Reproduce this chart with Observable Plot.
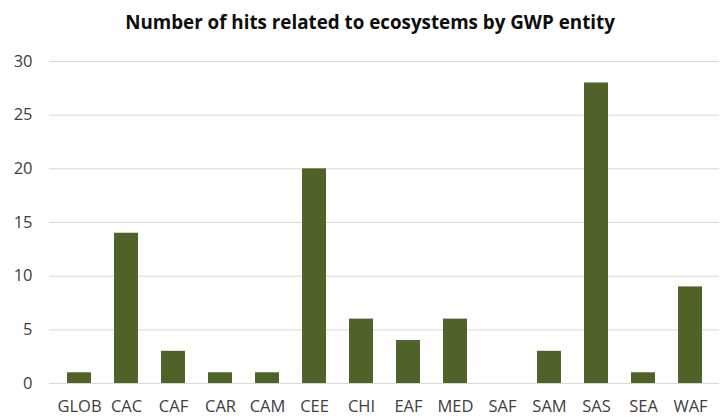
<!DOCTYPE html>
<html>
<head>
<meta charset="utf-8">
<script src="https://cdn.jsdelivr.net/npm/d3@7"></script>
<script src="https://cdn.jsdelivr.net/npm/@observablehq/plot@0.6"></script>
<style>
  html, body { margin: 0; padding: 0; background: #fff; }
  #chart { width: 722px; height: 419px; overflow: hidden; }
  .title {
    height: 40px; line-height: 44px; box-sizing: border-box;
    width: 740px; white-space: nowrap;
    text-align: center; font-family: "Open Sans", sans-serif;
    font-weight: 700; font-size: 18.8px; color: #0d0d0d;
  }
</style>
</head>
<body>
<div id="chart">
  <div class="title">Number of hits related to ecosystems by GWP entity</div>
</div>
<script>
// GWP entities and the number of ecosystem-related hits for each
const entities = ["GLOB", "CAC", "CAF", "CAR", "CAM", "CEE", "CHI", "EAF", "MED", "SAF", "SAM", "SAS", "SEA", "WAF"];
const hits = [1, 14, 3, 1, 1, 20, 6, 4, 6, 0, 3, 28, 1, 9];
const yTicks = [0, 5, 10, 15, 20, 25, 30];

const rows = entities.map((entity, i) => ({entity, hits: hits[i]}));

const chart = Plot.plot({
  width: 722,
  height: 379,
  marginTop: 21,
  marginBottom: 36,
  marginLeft: 49,
  marginRight: 3,
  style: {fontFamily: "Open Sans, sans-serif", fontSize: "16.5px", color: "#404040", background: "#fff"},
  x: {domain: entities, paddingInner: 0.5, paddingOuter: 0.25, label: null, tickSize: 0, tickPadding: 17},
  y: {domain: [0, 30], ticks: yTicks, label: null, tickSize: 0, tickPadding: 17},
  marks: [
    Plot.ruleY(yTicks, {stroke: "#d9d9d9", strokeWidth: 1}),
    Plot.barY(rows, {x: "entity", y: "hits", fill: "#4f6228"})
  ]
});
document.getElementById("chart").appendChild(chart);
</script>
</body>
</html>
